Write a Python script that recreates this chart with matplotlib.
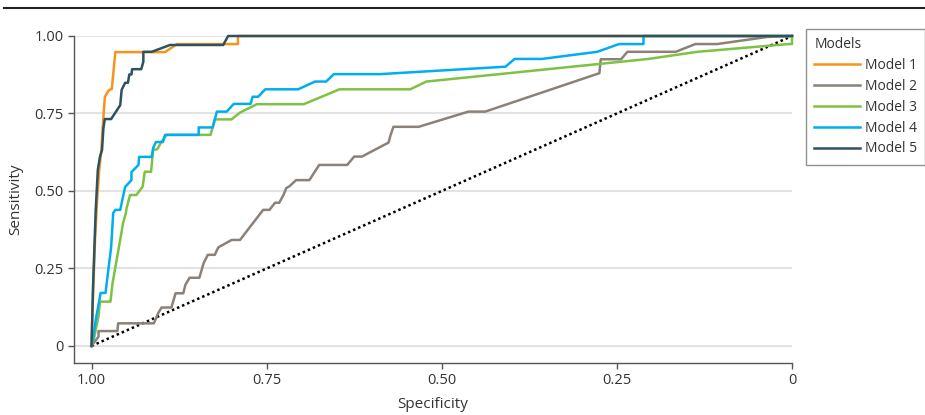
import matplotlib
matplotlib.use("Agg")
import matplotlib.pyplot as plt
from matplotlib.lines import Line2D

plt.rcParams['font.family'] = ['Open Sans', 'DejaVu Sans']

# ROC points: specificity, sensitivity
m1_spec = [1.0, 0.999, 0.997, 0.995, 0.992, 0.989, 0.986, 0.984, 0.981, 0.976, 0.972, 0.971, 0.966, 0.895, 0.878, 0.791, 0.791, 0.0]
m1_sens = [0.0, 0.084, 0.213, 0.342, 0.471, 0.568, 0.632, 0.706, 0.803, 0.823, 0.829, 0.829, 0.948, 0.948, 0.974, 0.974, 1.0, 1.0]

m2_spec = [1.0, 0.990, 0.990, 0.963, 0.962, 0.911, 0.905, 0.900, 0.886, 0.880, 0.869, 0.866, 0.860, 0.846,
           0.840, 0.834, 0.824, 0.819, 0.800, 0.788, 0.755, 0.746, 0.738, 0.732, 0.726, 0.722, 0.717, 0.708,
           0.689, 0.675, 0.635, 0.625, 0.614, 0.576, 0.573, 0.569, 0.533, 0.462, 0.438, 0.275, 0.273, 0.244,
           0.235, 0.166, 0.138, 0.107, 0.035, 0.0]
m2_sens = [0.0, 0.030, 0.048, 0.048, 0.073, 0.073, 0.105, 0.124, 0.124, 0.170, 0.170, 0.197, 0.220, 0.220,
           0.267, 0.294, 0.294, 0.318, 0.342, 0.342, 0.439, 0.439, 0.462, 0.462, 0.487, 0.509, 0.516, 0.535,
           0.535, 0.584, 0.584, 0.611, 0.611, 0.656, 0.681, 0.707, 0.707, 0.756, 0.756, 0.880, 0.925, 0.925,
           0.949, 0.949, 0.974, 0.974, 0.997, 1.0]

m3_spec = [1.0, 0.997, 0.990, 0.988, 0.973, 0.970, 0.957, 0.955, 0.951, 0.950, 0.945, 0.936, 0.927, 0.924,
           0.915, 0.912, 0.906, 0.900, 0.893, 0.830, 0.824, 0.800, 0.788, 0.764, 0.697, 0.646, 0.545, 0.522,
           0.205, 0.135, 0.005, 0.0, 0.0]
m3_sens = [0.0, 0.019, 0.095, 0.143, 0.143, 0.202, 0.369, 0.396, 0.428, 0.444, 0.487, 0.487, 0.514, 0.562,
           0.562, 0.632, 0.635, 0.659, 0.681, 0.681, 0.731, 0.731, 0.753, 0.780, 0.780, 0.828, 0.828, 0.853,
           0.926, 0.949, 0.974, 0.974, 1.0]

m4_spec = [1.0, 0.998, 0.994, 0.987, 0.980, 0.972, 0.969, 0.966, 0.959, 0.956, 0.952, 0.943, 0.943, 0.933,
           0.932, 0.914, 0.912, 0.908, 0.898, 0.895, 0.847, 0.847, 0.827, 0.821, 0.807, 0.797, 0.773, 0.770,
           0.762, 0.752, 0.705, 0.681, 0.665, 0.654, 0.588, 0.409, 0.396, 0.357, 0.278, 0.247, 0.212, 0.212, 0.0]
m4_sens = [0.0, 0.019, 0.084, 0.171, 0.171, 0.319, 0.429, 0.439, 0.439, 0.471, 0.513, 0.535, 0.561, 0.584,
           0.610, 0.610, 0.639, 0.658, 0.658, 0.681, 0.681, 0.705, 0.705, 0.756, 0.756, 0.781, 0.781, 0.804,
           0.804, 0.828, 0.828, 0.853, 0.853, 0.877, 0.877, 0.901, 0.926, 0.926, 0.949, 0.974, 0.974, 1.0, 1.0]

m5_spec = [1.0, 0.999, 0.998, 0.996, 0.994, 0.991, 0.988, 0.985, 0.983, 0.981, 0.972, 0.959, 0.957, 0.952,
           0.948, 0.946, 0.943, 0.942, 0.929, 0.926, 0.926, 0.914, 0.888, 0.812, 0.805, 0.0]
m5_sens = [0.0, 0.084, 0.181, 0.310, 0.439, 0.568, 0.610, 0.632, 0.703, 0.732, 0.732, 0.777, 0.826, 0.849,
           0.849, 0.876, 0.876, 0.893, 0.893, 0.917, 0.949, 0.949, 0.971, 0.971, 1.0, 1.0]

labels = ['Model 1', 'Model 2', 'Model 3', 'Model 4', 'Model 5']
colors = ['#F7941E', '#8B8178', '#7DC242', '#00AEEF', '#2D5261']
specs = [m1_spec, m2_spec, m3_spec, m4_spec, m5_spec]
senss = [m1_sens, m2_sens, m3_sens, m4_sens, m5_sens]

ticks = [1.0, 0.75, 0.5, 0.25, 0.0]
tick_labels = ['1.00', '0.75', '0.50', '0.25', '0']

fig = plt.figure(figsize=(9.25, 4.15), dpi=100)
ax = fig.add_axes([74 / 925, 1 - 363 / 415, (792 - 74) / 925, (363 - 36) / 415])

# reference diagonal
ax.plot([1, 0], [0, 1], color='black', lw=1.8, ls=(0, (1, 1.2)), zorder=2, clip_on=False)

order = [1, 2, 3, 0, 4]
lines = {}
for i in order:
    ln, = ax.plot(specs[i], senss[i], color=colors[i], lw=1.8, label=labels[i], zorder=3, clip_on=False)
    lines[i] = ln

ax.set_xlim(1.025, 0)
ax.set_ylim(-0.055, 1.0)
ax.set_xticks(ticks)
ax.set_xticklabels(tick_labels)
ax.set_yticks(ticks)
ax.set_yticklabels(tick_labels)
ax.yaxis.grid(True, color='#E3E3E3', lw=1.5)
ax.set_axisbelow(True)

for s in ['top', 'right']:
    ax.spines[s].set_visible(False)
for s in ['left', 'bottom']:
    ax.spines[s].set_color('#555555')
    ax.spines[s].set_linewidth(1.0)
ax.tick_params(colors='#555555', labelcolor='#333333', labelsize=10.5, length=4, width=1)
ax.set_xlabel('Specificity', fontsize=11, color='#333333', labelpad=6)
ax.set_ylabel('Sensitivity', fontsize=11, color='#333333', labelpad=8)

leg = fig.legend([lines[i] for i in range(5)], labels, title='Models', loc='upper left',
                 bbox_to_anchor=(806 / 925, 1 - 29 / 415), borderaxespad=0, fontsize=10, title_fontsize=10,
                 handlelength=3.3, handletextpad=0.35, labelspacing=0.42, borderpad=0.6,
                 fancybox=False, alignment='left', frameon=True)
leg.get_frame().set_edgecolor('#777777')
leg.get_frame().set_linewidth(1.0)
for t in leg.get_texts():
    t.set_color('#333333')
leg.get_title().set_color('#333333')

# rule across the top of the figure
fig.add_artist(Line2D([4 / 925, 1], [1 - 8 / 415, 1 - 8 / 415], color='#222222', lw=1.5))

fig.savefig('out.png', dpi=100)
